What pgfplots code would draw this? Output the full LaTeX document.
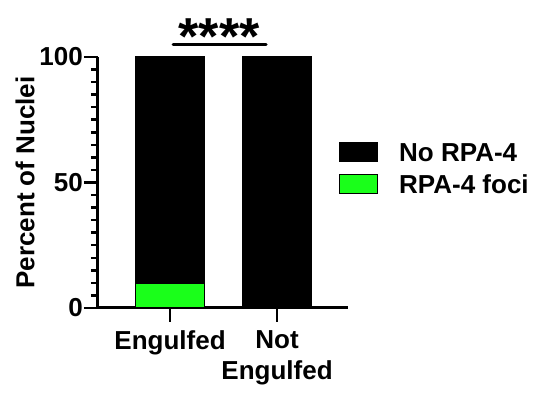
\documentclass[border=0pt]{standalone}
\usepackage{fontspec}
\setmainfont{Liberation Sans}
\usepackage{pgfplots}
\pgfplotsset{compat=1.18}
\definecolor{fociGreen}{RGB}{26,255,26}
\newcommand{\lbl}{\fontsize{26}{31}\selectfont\bfseries}
\pgfplotsset{
  boxlegend/.style={legend image code/.code={%
    \draw[##1, line width=1pt] (0pt,0pt) rectangle (38pt,19pt);}},
}
\begin{document}
\begin{tikzpicture}[x=1pt,y=1pt]
\useasboundingbox (0,0) rectangle (533,393);
\begin{axis}[
  at={(98pt,85pt)}, anchor=south west,
  scale only axis, width=250pt, height=251pt,
  ybar stacked, bar width=0.65,
  xmin=-0.673, xmax=1.663, ymin=0, ymax=100,
  axis x line=bottom, axis y line=left,
  axis line style={-, line width=3pt},
  clip=false,
  xtick={0,1}, xticklabels={Engulfed,{Not\\Engulfed}},
  xticklabel style={font=\lbl, align=center, inner sep=2pt, yshift=-6pt},
  ytick={0,50,100}, minor y tick num=9,
  yticklabel style={font=\lbl, inner sep=1pt},
  /pgf/number format/assume math mode=true,
  tick align=outside,
  major tick length=14pt, minor tick length=7pt,
  every tick/.style={black, line width=2.5pt},
  ylabel={Percent of Nuclei},
  every axis y label/.style={at={(rel axis cs:-0.292,0.5)}, rotate=90, anchor=center, font=\lbl},
  legend style={at={(rel axis cs:0.952,0.67)}, anchor=north west,
    draw=none, fill=none, font=\lbl, row sep=11pt, column sep=21pt,
    nodes={inner sep=0pt, anchor=base west}},
  reverse legend,
]
\addplot[fill=fociGreen, draw=black, line width=1pt, boxlegend] coordinates {(0,9.6) (1,0)};
\addlegendentry{RPA-4 foci}
\addplot[fill=black, draw=black, line width=1pt, boxlegend] coordinates {(0,90.4) (1,100)};
\addlegendentry{No RPA-4}
% significance bracket
\draw[line width=3pt, line cap=round] (axis cs:0.03,104.8) -- (axis cs:0.897,104.8);
\node[font=\fontsize{52}{52}\selectfont\bfseries, anchor=base] at (axis cs:0.458,101) {****};
\end{axis}
\end{tikzpicture}
\end{document}
